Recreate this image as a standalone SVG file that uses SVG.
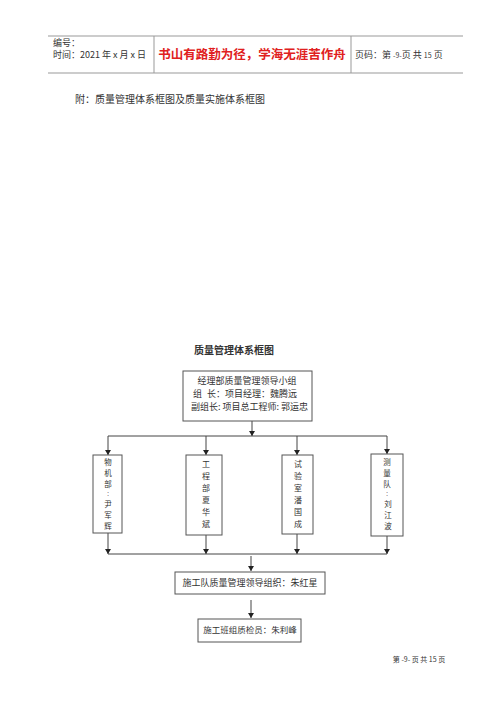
<svg xmlns="http://www.w3.org/2000/svg" width="500" height="707" viewBox="0 0 500 707">
<style>
.t{font-family:"Noto Sans CJK SC","Liberation Sans",sans-serif;fill:#333;}
.box{fill:#fff;stroke:#555;stroke-width:1;}
.ln{stroke:#444;stroke-width:1;fill:none;}
.hd{stroke:#999;stroke-width:1;fill:none;}
.v{font-size:8px;text-anchor:middle;}
.v2{font-size:7.5px;text-anchor:middle;}
.c{font-family:"Liberation Sans",sans-serif;}
</style>
<defs>
<marker id="ah" markerWidth="6" markerHeight="6" refX="5" refY="3" orient="auto" markerUnits="userSpaceOnUse">
<path d="M0,0 L5,3 L0,6 Z" fill="#222"/>
</marker>
</defs>
<rect width="500" height="707" fill="#fff"/>
<g id="header">
<path class="hd" d="M48,36 H463 M48,73 H463 M154,36 V73 M351,36 V73"/>
<text class="t" x="53" y="46" font-size="9">编号：</text>
<text class="t" x="53" y="58" font-size="9">时间：2021 年 x 月 x 日</text>
<text x="252" y="59" font-size="12.5" font-weight="bold" text-anchor="middle" fill="#e02020" font-family="Noto Sans CJK SC, sans-serif">书山有路勤为径，学海无涯苦作舟</text>
<text class="t" x="355" y="58" font-size="9">页码：第 <tspan font-size="7">-9-</tspan>页  共 <tspan font-size="7">15</tspan> 页</text>
</g>
<text class="t" x="75" y="103" font-size="10" fill="#444">附：质量管理体系框图及质量实施体系框图</text>
<text class="t" x="234" y="354" font-size="10" font-weight="bold" text-anchor="middle" fill="#222">质量管理体系框图</text>
<g id="connectors">
<line class="ln" x1="252" y1="421" x2="252" y2="436" marker-end="url(#ah)"/>
<line class="ln" x1="108" y1="436" x2="387" y2="436"/>
<line class="ln" x1="108" y1="436" x2="108" y2="455" marker-end="url(#ah)"/>
<line class="ln" x1="206" y1="436" x2="206" y2="455" marker-end="url(#ah)"/>
<line class="ln" x1="297" y1="436" x2="297" y2="455" marker-end="url(#ah)"/>
<line class="ln" x1="387" y1="436" x2="387" y2="454" marker-end="url(#ah)"/>
<line class="ln" x1="108" y1="533" x2="108" y2="554" marker-end="url(#ah)"/>
<line class="ln" x1="206" y1="535" x2="206" y2="554" marker-end="url(#ah)"/>
<line class="ln" x1="297" y1="534" x2="297" y2="554" marker-end="url(#ah)"/>
<line class="ln" x1="387" y1="536" x2="387" y2="554" marker-end="url(#ah)"/>
<line class="ln" x1="108" y1="554" x2="387" y2="554"/>
<line class="ln" x1="251" y1="556" x2="251" y2="571" marker-end="url(#ah)"/>
<line class="ln" x1="251" y1="600" x2="251" y2="618" marker-end="url(#ah)"/>
</g>
<g id="leader">
<rect class="box" x="183" y="371" width="129" height="50"/>
<text class="t" x="247" y="384" font-size="9" text-anchor="middle">经理部质量管理领导小组</text>
<text class="t" y="397" font-size="9"><tspan x="193">组</tspan><tspan x="207">长：项目经理：魏腾远</tspan></text>
<text class="t" x="191" y="410" font-size="9">副组长: 项目总工程师: 郭运忠</text>
</g>
<g id="wujibu">
<rect class="box" x="93" y="455" width="29" height="78"/>
<text class="t v2"><tspan x="108" y="465">物</tspan><tspan x="108" y="476">机</tspan><tspan x="108" y="487">部</tspan><tspan class="c" x="108" y="496">:</tspan><tspan x="108" y="506.5">尹</tspan><tspan x="108" y="517.5">军</tspan><tspan x="108" y="528.5">辉</tspan></text>
</g>
<g id="gongchengbu">
<rect class="box" x="186" y="455" width="36" height="80"/>
<text class="t v"><tspan x="206" y="467">工</tspan><tspan x="206" y="479">程</tspan><tspan x="206" y="491">部</tspan><tspan x="206" y="503">夏</tspan><tspan x="206" y="515">华</tspan><tspan x="206" y="527">斌</tspan></text>
</g>
<g id="shiyanshi">
<rect class="box" x="282" y="455" width="31" height="79"/>
<text class="t v"><tspan x="298" y="467">试</tspan><tspan x="298" y="479">验</tspan><tspan x="298" y="491">室</tspan><tspan x="298" y="503">潘</tspan><tspan x="298" y="515">国</tspan><tspan x="298" y="527">成</tspan></text>
</g>
<g id="celiangdui">
<rect class="box" x="371" y="454" width="32" height="82"/>
<text class="t v2"><tspan x="387" y="465">测</tspan><tspan x="387" y="476">量</tspan><tspan x="387" y="487">队</tspan><tspan class="c" x="387" y="496">:</tspan><tspan x="388" y="506.5">刘</tspan><tspan x="388" y="517.5">江</tspan><tspan x="388" y="528.5">波</tspan></text>
</g>
<g id="team">
<rect class="box" x="175" y="572" width="150" height="22"/>
<text class="t" x="250" y="586" font-size="9" text-anchor="middle">施工队质量管理领导组织：朱红星</text>
</g>
<g id="inspector">
<rect class="box" x="198" y="619" width="103" height="23"/>
<text class="t" x="250" y="633" font-size="8.5" text-anchor="middle">施工班组质检员：朱利峰</text>
</g>
<text class="t" x="419" y="662" font-size="7" text-anchor="middle" fill="#666">第 -9- 页 共 15 页</text>
</svg>
